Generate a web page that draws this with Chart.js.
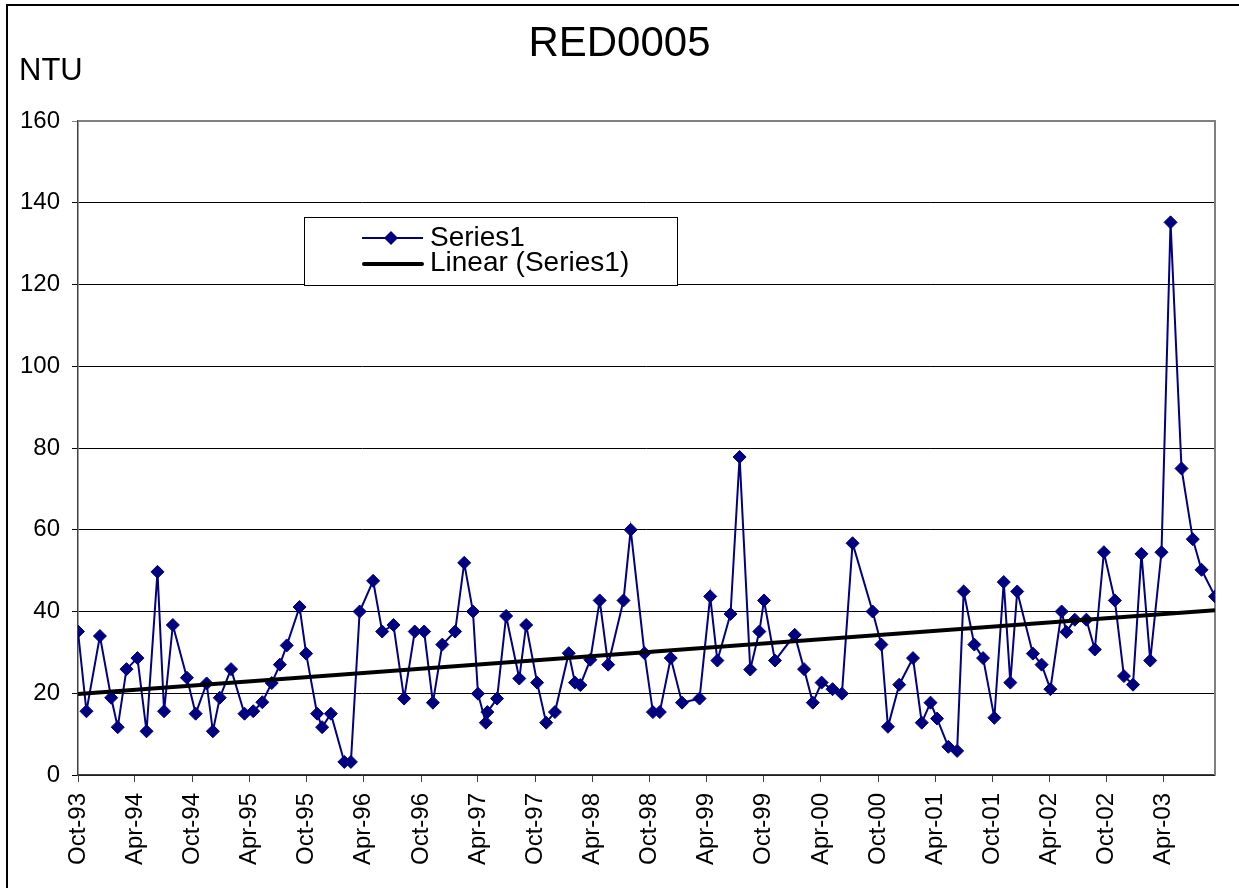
<!DOCTYPE html>
<html>
<head>
<meta charset="utf-8">
<title>RED0005</title>
<script src="https://cdn.jsdelivr.net/npm/chart.js@4"></script>
<style>
  html, body { margin: 0; padding: 0; background: #fff; overflow: hidden; }
  #wrap { width: 1239px; height: 888px; }
</style>
</head>
<body>
<div id="wrap"><canvas id="myChart"></canvas></div>
<script>
// sample dates and turbidity values
var sampleDates = [
  '1993-10-01','1993-10-28','1993-12-10','1994-01-15','1994-02-05','1994-03-05','1994-04-09','1994-05-08','1994-06-12','1994-07-03','1994-07-31','1994-09-14','1994-10-12','1994-11-16','1994-12-06','1994-12-28',
  '1995-02-02','1995-03-17','1995-04-14','1995-05-13','1995-06-12','1995-07-08','1995-07-30','1995-09-09','1995-09-30','1995-11-04','1995-11-20','1995-12-18',
  '1996-01-30','1996-02-20','1996-03-19','1996-05-01','1996-05-30','1996-07-05','1996-08-08','1996-09-11','1996-10-11','1996-11-08','1996-12-08',
  '1997-01-18','1997-02-16','1997-03-16','1997-04-01','1997-04-26','1997-05-01','1997-06-01','1997-06-30','1997-08-11','1997-09-02','1997-10-07','1997-11-05','1997-12-03',
  '1998-01-16','1998-02-05','1998-02-22','1998-03-26','1998-04-25','1998-05-22','1998-07-10','1998-08-02','1998-09-15','1998-10-12','1998-11-03','1998-12-08',
  '1999-01-13','1999-03-10','1999-04-13','1999-05-06','1999-06-17','1999-07-16','1999-08-19','1999-09-17','1999-10-02','1999-11-06',
  '2000-01-08','2000-02-07','2000-03-06','2000-04-03','2000-05-08','2000-06-07','2000-07-11','2000-09-13','2000-10-11','2000-11-01','2000-12-07',
  '2001-01-20','2001-02-17','2001-03-17','2001-04-07','2001-05-13','2001-06-10','2001-07-01','2001-08-04','2001-09-01','2001-10-07','2001-11-06','2001-11-27','2001-12-19',
  '2002-02-07','2002-03-07','2002-04-04','2002-05-10','2002-05-25','2002-06-21','2002-07-28','2002-08-24','2002-09-22','2002-10-27','2002-11-25','2002-12-24',
  '2003-01-20','2003-02-17','2003-03-25','2003-04-23','2003-05-28','2003-07-03','2003-07-31','2003-09-12'
];
var ntuValues = [
  35.1, 15.6, 34.0, 18.9, 11.7, 25.9, 28.6, 10.7, 49.7, 15.6, 36.7, 23.8, 15.0, 22.4, 10.7, 18.9,
  25.9, 15.0, 15.6, 17.8, 22.5, 27.0, 31.7, 41.1, 29.7, 15.0, 11.7, 15.0,
  3.2, 3.2, 40.0, 47.5, 35.1, 36.7, 18.7, 35.1, 35.1, 17.7, 31.9,
  35.1, 51.9, 40.0, 19.9, 12.8, 15.4, 18.7, 38.9, 23.6, 36.7, 22.6, 12.8, 15.4,
  29.8, 22.6, 22.0, 28.2, 42.7, 27.0, 42.7, 60.0, 29.8, 15.4, 15.4, 28.6,
  17.7, 18.7, 43.7, 28.0, 39.4, 77.8, 25.8, 35.1, 42.7, 28.0,
  34.3, 25.9, 17.7, 22.6, 21.0, 19.9, 56.7, 40.0, 31.9, 11.8, 22.1,
  28.6, 12.8, 17.7, 13.8, 6.9, 5.9, 44.9, 31.9, 28.6, 14.0, 47.2, 22.6, 44.9,
  29.7, 27.0, 21.0, 40.0, 35.0, 38.0, 38.0, 30.7, 54.5, 42.7, 24.2, 22.1,
  54.1, 28.0, 54.5, 135.2, 75.0, 57.7, 50.2, 43.7
];
var tickDates = [
  '1993-10-01','1994-04-01','1994-10-01','1995-04-01','1995-10-01','1996-04-01','1996-10-01',
  '1997-04-01','1997-10-01','1998-04-01','1998-10-01','1999-04-01','1999-10-01','2000-04-01',
  '2000-10-01','2001-04-01','2001-10-01','2002-04-01','2002-10-01','2003-04-01'
];
var yTicks = [0, 20, 40, 60, 80, 100, 120, 140, 160];

var monthNames = ['Jan','Feb','Mar','Apr','May','Jun','Jul','Aug','Sep','Oct','Nov','Dec'];
var FONT = "'Liberation Sans', Arial, sans-serif";

function toDay(s) {
  return Date.UTC(+s.slice(0, 4), +s.slice(5, 7) - 1, +s.slice(8, 10)) / 86400000;
}
function dayLabel(v) {
  var d = new Date(v * 86400000);
  return monthNames[d.getUTCMonth()] + '-' + String(d.getUTCFullYear()).slice(2);
}

var points = sampleDates.map(function (s, i) { return { x: toDay(s), y: ntuValues[i] }; });
var xMin = points[0].x;
var xMax = points[points.length - 1].x;

// least squares trend, like Excel's "Linear (Series1)"
var n = points.length, sx = 0, sy = 0, sxx = 0, sxy = 0;
points.forEach(function (p) { sx += p.x; sy += p.y; sxx += p.x * p.x; sxy += p.x * p.y; });
var slope = (n * sxy - sx * sy) / (n * sxx - sx * sx);
var icpt = (sy - slope * sx) / n;
var trend = [{ x: xMin, y: icpt + slope * xMin }, { x: xMax, y: icpt + slope * xMax }];

var decor = {
  id: 'decor',
  beforeDraw: function (chart) {
    var ctx = chart.ctx;
    ctx.save();
    ctx.fillStyle = '#fff';
    ctx.fillRect(0, 0, chart.width, chart.height);
    ctx.strokeStyle = '#000';
    ctx.lineWidth = 2;
    ctx.strokeRect(7, 5, 2000, 2000);
    ctx.restore();
  },
  beforeDatasetsDraw: function (chart) {
    var ctx = chart.ctx, ca = chart.chartArea;
    ctx.save();
    ctx.strokeStyle = '#808080';
    ctx.lineWidth = 2;
    ctx.beginPath();
    ctx.moveTo(ca.left, ca.top);
    ctx.lineTo(ca.right, ca.top);
    ctx.lineTo(ca.right, ca.bottom);
    ctx.stroke();
    ctx.restore();
  },
  afterDraw: function (chart) {
    var ctx = chart.ctx, ca = chart.chartArea;
    ctx.save();
    ctx.fillStyle = '#000';
    ctx.textBaseline = 'alphabetic';
    ctx.font = '31px ' + FONT;
    ctx.fillText('NTU', 19, 80);

    // legend box
    var lx = ca.left + 226, ly = ca.top + 96;
    ctx.fillStyle = '#fff';
    ctx.fillRect(lx, ly, 373, 68);
    ctx.strokeStyle = '#000';
    ctx.lineWidth = 1;
    ctx.strokeRect(lx + 0.5, ly + 0.5, 373, 68);

    ctx.strokeStyle = '#000080';
    ctx.lineWidth = 2;
    ctx.beginPath();
    ctx.moveTo(lx + 58, ly + 21);
    ctx.lineTo(lx + 119, ly + 21);
    ctx.stroke();
    ctx.fillStyle = '#000080';
    ctx.beginPath();
    ctx.moveTo(lx + 87, ly + 14);
    ctx.lineTo(lx + 94, ly + 21);
    ctx.lineTo(lx + 87, ly + 28);
    ctx.lineTo(lx + 80, ly + 21);
    ctx.closePath();
    ctx.fill();

    ctx.strokeStyle = '#000';
    ctx.lineWidth = 4;
    ctx.lineCap = 'round';
    ctx.beginPath();
    ctx.moveTo(lx + 60, ly + 47);
    ctx.lineTo(lx + 118, ly + 47);
    ctx.stroke();

    ctx.fillStyle = '#000';
    ctx.font = '28px ' + FONT;
    ctx.fillText('Series1', lx + 126, ly + 29);
    ctx.fillText('Linear (Series1)', lx + 126, ly + 54);
    ctx.restore();
  }
};

new Chart('myChart', {
  type: 'line',
  data: {
    datasets: [{
      label: 'Linear (Series1)',
      data: trend,
      borderColor: '#000',
      borderWidth: 4,
      pointRadius: 0,
      order: 0
    }, {
      label: 'Series1',
      data: points,
      borderColor: '#000080',
      backgroundColor: '#000080',
      borderWidth: 2,
      pointStyle: 'rectRot',
      pointRadius: 6.5,
      pointBorderWidth: 1,
      pointBorderColor: '#000080',
      pointBackgroundColor: '#000080',
      tension: 0,
      order: 1
    }]
  },
  plugins: [decor],
  options: {
    responsive: true,
    maintainAspectRatio: false,
    animation: false,
    layout: { padding: 0 },
    plugins: {
      legend: { display: false },
      tooltip: { enabled: false },
      title: {
        display: true,
        text: 'RED0005',
        color: '#000',
        font: { family: FONT, size: 42, weight: 'normal' },
        padding: { top: 19, bottom: 51.6 }
      }
    },
    scales: {
      x: {
        type: 'linear',
        min: xMin,
        max: xMax,
        afterBuildTicks: function (scale) {
          scale.ticks = tickDates.map(function (s) { return { value: toDay(s) }; });
        },
        afterFit: function (scale) { scale.height = 113; },
        grid: { display: true, drawOnChartArea: false, drawTicks: true, tickLength: 7, color: '#404040' },
        border: { display: true, color: '#404040', width: 1.5 },
        ticks: {
          autoSkip: false,
          minRotation: 90,
          maxRotation: 90,
          padding: 11,
          color: '#000',
          font: { family: FONT, size: 24 },
          callback: function (v) { return dayLabel(v); }
        }
      },
      y: {
        min: 0,
        max: 160,
        afterBuildTicks: function (scale) {
          scale.ticks = yTicks.map(function (v) { return { value: v }; });
        },
        afterFit: function (scale) { scale.width = 78; },
        grid: {
          color: function (c) { return c.tick && c.tick.value === 160 ? '#808080' : '#000'; },
          lineWidth: 1,
          tickLength: 6
        },
        border: { display: true, color: '#404040', width: 1.5 },
        ticks: {
          padding: 12,
          color: '#000',
          font: { family: FONT, size: 24 }
        }
      },
      // empty right-hand gutter so the plot ends where the reference's does
      gutter: {
        type: 'linear',
        position: 'right',
        display: true,
        afterFit: function (scale) { scale.width = 24; },
        grid: { display: false, drawTicks: false },
        border: { display: false },
        ticks: { display: false }
      }
    }
  }
});
</script>
</body>
</html>
